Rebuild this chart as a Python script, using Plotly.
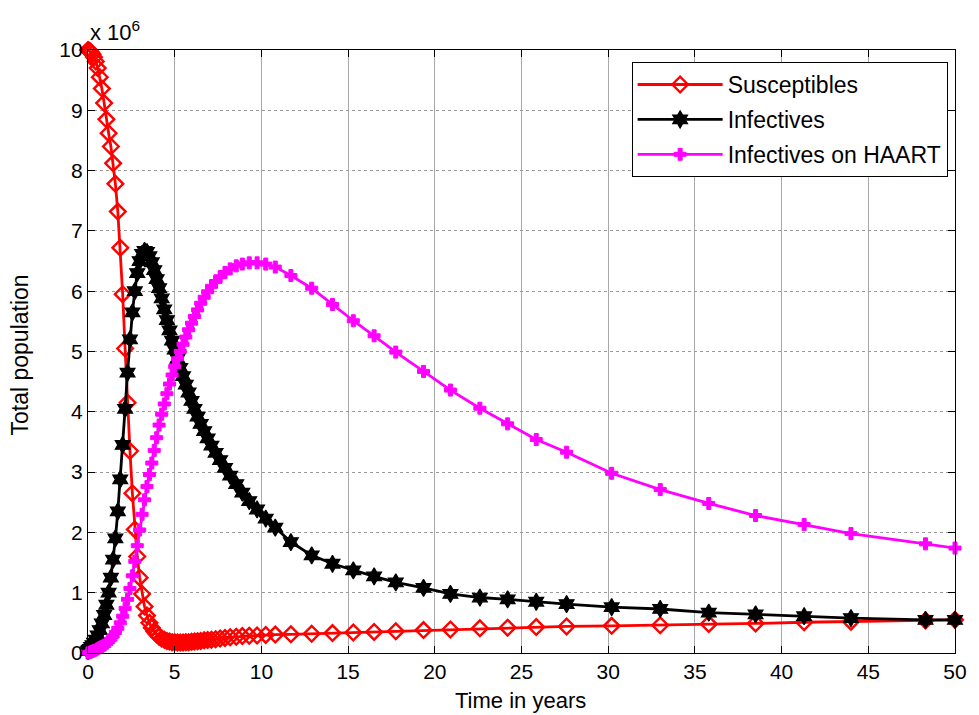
import plotly.graph_objects as go

# time (years)
t = [0, 0.05, 0.11, 0.18, 0.26, 0.35, 0.45, 0.56, 0.68, 0.8, 0.93, 1.06, 1.19, 1.32, 1.45,
     1.58, 1.72, 1.86, 2.0, 2.14, 2.28, 2.42, 2.56, 2.7, 2.84, 2.98, 3.12, 3.26, 3.4, 3.54,
     3.68, 3.82, 3.96, 4.1, 4.25, 4.4, 4.55, 4.7, 4.85, 5.0, 5.16, 5.32, 5.48, 5.64, 5.8,
     5.97, 6.14, 6.32, 6.5, 6.7, 6.9, 7.12, 7.36, 7.62, 7.9, 8.2, 8.55, 8.9, 9.3, 9.75,
     10.25, 10.8, 11.7, 12.9, 14.1, 15.3, 16.5, 17.75, 19.35, 20.9, 22.6, 24.2, 25.85, 27.6,
     30.2, 33.0, 35.8, 38.5, 41.3, 44.0, 48.3, 50]

# populations in units of 10^6
susceptibles = [10.0, 9.99, 9.98, 9.96, 9.93, 9.88, 9.81, 9.70, 9.55, 9.36, 9.12, 8.85, 8.62, 8.4, 8.12,
                7.78, 7.32, 6.72, 5.95, 5.05, 4.15, 3.35, 2.65, 2.05, 1.6, 1.25, 0.98, 0.77, 0.62, 0.5,
                0.42, 0.36, 0.31, 0.27, 0.24, 0.22, 0.2, 0.19, 0.18, 0.18, 0.175, 0.175, 0.175, 0.18, 0.18,
                0.185, 0.19, 0.195, 0.2, 0.21, 0.215, 0.22, 0.23, 0.24, 0.25, 0.26, 0.27, 0.28, 0.285, 0.29,
                0.3, 0.305, 0.31, 0.32, 0.33, 0.34, 0.35, 0.36, 0.38, 0.39, 0.41, 0.42, 0.43, 0.44,
                0.45, 0.46, 0.48, 0.49, 0.51, 0.52, 0.54, 0.55]

infectives = [0.03, 0.05, 0.07, 0.1, 0.13, 0.17, 0.22, 0.29, 0.38, 0.49, 0.63, 0.8, 1.0, 1.25, 1.55,
              1.9, 2.35, 2.88, 3.45, 4.05, 4.65, 5.2, 5.65, 6.0, 6.3, 6.5, 6.62, 6.67, 6.65, 6.58,
              6.48, 6.35, 6.2, 6.05, 5.88, 5.7, 5.52, 5.35, 5.18, 5.03, 4.88, 4.73, 4.59, 4.45, 4.32,
              4.18, 4.05, 3.92, 3.8, 3.68, 3.56, 3.44, 3.32, 3.2, 3.07, 2.94, 2.8, 2.66, 2.52, 2.38,
              2.23, 2.08, 1.84, 1.62, 1.48, 1.37, 1.27, 1.17, 1.08, 0.98, 0.92, 0.89, 0.85, 0.81,
              0.76, 0.73, 0.67, 0.64, 0.61, 0.58, 0.55, 0.55]

haart = [0.0, 0.005, 0.01, 0.02, 0.03, 0.04, 0.05, 0.07, 0.09, 0.11, 0.13, 0.16, 0.19, 0.23, 0.28,
         0.34, 0.41, 0.5, 0.61, 0.74, 0.89, 1.07, 1.28, 1.52, 1.78, 2.04, 2.3, 2.54, 2.76, 2.96,
         3.15, 3.36, 3.57, 3.78, 3.96, 4.13, 4.3, 4.46, 4.61, 4.75, 4.88, 5.0, 5.12, 5.24, 5.36,
         5.47, 5.58, 5.69, 5.8, 5.9, 5.99, 6.08, 6.16, 6.24, 6.31, 6.37, 6.42, 6.45, 6.47, 6.47,
         6.45, 6.4, 6.26, 6.05, 5.78, 5.51, 5.26, 4.99, 4.67, 4.36, 4.06, 3.8, 3.54, 3.33,
         2.98, 2.71, 2.48, 2.28, 2.13, 1.98, 1.81, 1.74]

xticks = [0, 5, 10, 15, 20, 25, 30, 35, 40, 45, 50]
yticks = [0, 1, 2, 3, 4, 5, 6, 7, 8, 9, 10]

FONT = "Liberation Sans, Arial, sans-serif"

fig = go.Figure()
fig.add_trace(go.Scatter(
    x=t, y=susceptibles, name="Susceptibles", mode="lines+markers",
    line=dict(color="#ff0000", width=2.8),
    marker=dict(symbol="diamond-open", size=12, color="#ff0000", line=dict(width=2.4, color="#ff0000")),
    cliponaxis=False, legendgroup="a"))
fig.add_trace(go.Scatter(
    x=t, y=infectives, name="Infectives", mode="lines+markers",
    line=dict(color="#000000", width=2.8),
    marker=dict(symbol="hexagram", size=13, color="#000000", line=dict(width=1.2, color="#000000")),
    cliponaxis=False, legendgroup="b"))
fig.add_trace(go.Scatter(
    x=t, y=haart, name="Infectives on HAART", mode="lines+markers",
    line=dict(color="#ff00ff", width=2.8),
    marker=dict(symbol="cross", size=10, color="#ff00ff", line=dict(width=1, color="#ff00ff")),
    cliponaxis=False, legendgroup="c"))

axis_common = dict(
    showline=True, linecolor="black", linewidth=1.2, mirror="ticks",
    ticks="inside", ticklen=7, tickcolor="black", tickwidth=1,
    showgrid=True, gridwidth=1,
    zeroline=False, tickfont=dict(family=FONT, size=21, color="black"),
)

fig.update_xaxes(range=[0, 50], tickvals=xticks, ticktext=[str(v) for v in xticks],
                 gridcolor="#a8a8a8", griddash="solid", **axis_common)
fig.update_yaxes(range=[0, 10], tickvals=yticks, ticktext=[str(v) for v in yticks],
                 gridcolor="#9a9a9a", griddash="dot", **axis_common)

fig.update_layout(
    width=971, height=707,
    margin=dict(l=80, r=21, t=42, b=62),
    paper_bgcolor="white", plot_bgcolor="white",
    font=dict(family=FONT, color="black"),
    showlegend=True,
    legend=dict(
        x=0.9915, y=0.98, xanchor="right", yanchor="top",
        bgcolor="white", bordercolor="black", borderwidth=1,
        font=dict(family=FONT, size=23, color="black"),
        tracegroupgap=2, itemwidth=85,
    ),
    annotations=[
        dict(text="x 10<sup>6</sup>", xref="paper", yref="paper", x=0.0, y=1.0,
             xanchor="left", yanchor="bottom", showarrow=False, yshift=3,
             font=dict(family=FONT, size=22, color="black")),
        dict(text="Total population", xref="paper", yref="paper", x=-0.078, y=0.494,
             xanchor="center", yanchor="middle", textangle=-90, showarrow=False,
             font=dict(family=FONT, size=23, color="black")),
        dict(text="Time in years", xref="paper", yref="paper", x=0.499, y=-0.078,
             xanchor="center", yanchor="middle", showarrow=False,
             font=dict(family=FONT, size=22, color="black")),
    ],
)

fig.write_html("out.html")
